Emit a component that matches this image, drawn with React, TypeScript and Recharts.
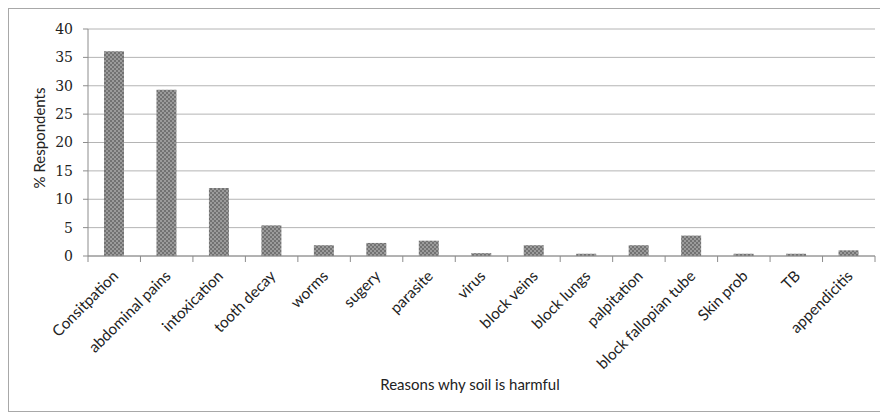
import React from 'react';
import { BarChart, Bar, XAxis, YAxis, CartesianGrid, Label } from 'recharts';

const categories = [
  'Consitpation', 'abdominal pains', 'intoxication', 'tooth decay', 'worms',
  'sugery', 'parasite', 'virus', 'block veins', 'block lungs',
  'palpitation', 'block fallopian tube', 'Skin prob', 'TB', 'appendicitis',
];
const respondents = [36.1, 29.3, 12.0, 5.4, 1.9, 2.3, 2.7, 0.5, 1.9, 0.4, 1.9, 3.6, 0.4, 0.4, 1.0];
const yTicks = [0, 5, 10, 15, 20, 25, 30, 35, 40];

const data = categories.map((name, i) => ({ name, value: respondents[i] }));

const W = 880;
const H = 404;
const M = { top: 21, right: 13, left: 30, bottom: 0 };
const Y_AXIS_W = 50;
const X_AXIS_H = 156;
const AXIS = '#8c8c8c';
const LABEL_FONT = 'Lato, "Open Sans", sans-serif';

const band = (W - M.left - M.right - Y_AXIS_W) / categories.length;

const XTick = (props: any) => {
  const { x, y, payload, index } = props;
  const last = index === categories.length - 1;
  const tx = x + 5;
  const ty = y + 13;
  return (
    <g>
      {/* tick marks sit between the categories, like the original */}
      <line x1={x - band / 2} x2={x - band / 2} y1={y - 8} y2={y - 2} stroke={AXIS} />
      {last && <line x1={x + band / 2} x2={x + band / 2} y1={y - 8} y2={y - 2} stroke={AXIS} />}
      <text
        x={tx}
        y={ty}
        transform={`rotate(-45 ${tx} ${ty})`}
        textAnchor="end"
        fontSize={15.3}
        fontFamily={LABEL_FONT}
        fill="#222"
      >
        {payload.value}
      </text>
    </g>
  );
};

const App = () => {
  return (
    <div style={{ position: 'relative', width: W, height: H }}>
      <svg width={0} height={0} style={{ position: 'absolute' }}>
        <defs>
          <pattern id="dots" width={4} height={4} patternUnits="userSpaceOnUse">
            <rect width={4} height={4} fill="#727272" />
            <circle cx={1} cy={1} r={0.8} fill="#cfcfcf" />
            <circle cx={3} cy={3} r={0.8} fill="#cfcfcf" />
          </pattern>
        </defs>
      </svg>
      <BarChart width={W} height={H} data={data} margin={M}>
        <CartesianGrid vertical={false} stroke="#b4b4b4" />
        <XAxis
          dataKey="name"
          interval={0}
          height={X_AXIS_H}
          tickLine={false}
          stroke={AXIS}
          tick={<XTick />}
        >
          <Label
            content={() => (
              <text x={462} y={382} textAnchor="middle" fontSize={15} fontFamily={LABEL_FONT} fill="#222">
                Reasons why soil is harmful
              </text>
            )}
          />
        </XAxis>
        <YAxis
          width={Y_AXIS_W}
          domain={[0, 40]}
          ticks={yTicks}
          interval={0}
          stroke={AXIS}
          tickSize={5}
          tickMargin={10}
          tick={{ fontSize: 14, fontFamily: '"DejaVu Serif", serif', fill: '#222' }}
        >
          <Label
            content={() => (
              <text
                x={37}
                y={130}
                transform="rotate(-90 37 130)"
                textAnchor="middle"
                fontSize={15}
                fontFamily={LABEL_FONT}
                fill="#222"
              >
                % Respondents
              </text>
            )}
          />
        </YAxis>
        <Bar dataKey="value" fill="url(#dots)" barSize={20} isAnimationActive={false} />
      </BarChart>
      <div
        style={{
          position: 'absolute',
          left: 0,
          top: 0,
          width: W,
          height: H - 2,
          borderTop: '1px solid #a8a8a8',
          borderLeft: '1px solid #a8a8a8',
          borderBottom: '1px solid #a8a8a8',
          pointerEvents: 'none',
        }}
      />
    </div>
  );
};

export default App;
